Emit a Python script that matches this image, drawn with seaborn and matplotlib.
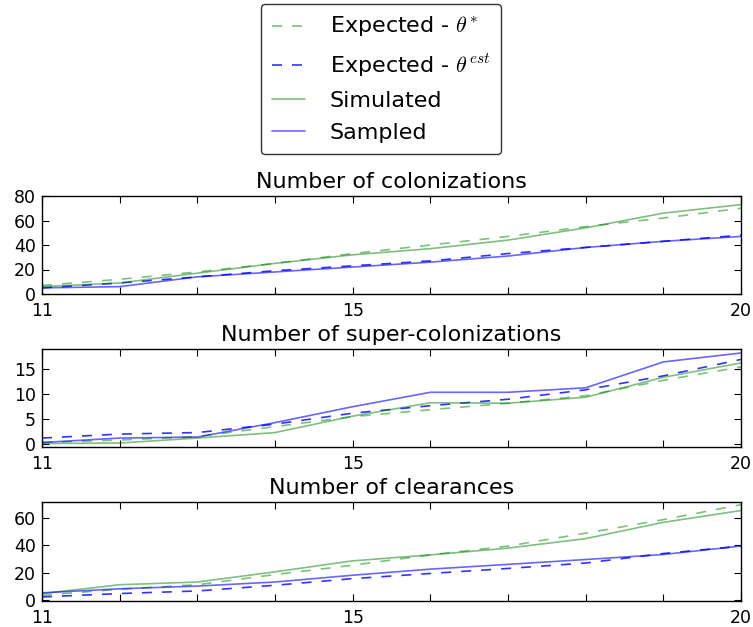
import numpy as np
import pandas as pd
import matplotlib
matplotlib.use("Agg")
import matplotlib.pyplot as plt
import seaborn as sns
from matplotlib.ticker import FixedLocator, MultipleLocator

sns.set_style("white")
plt.rcParams['font.family'] = ['DejaVu Sans']
plt.rcParams['font.size'] = 12
plt.rcParams['mathtext.fontset'] = 'cm'
for key in ['text.color', 'axes.labelcolor', 'xtick.color', 'ytick.color']:
    plt.rcParams[key] = 'black'

steps = [11, 12, 13, 14, 15, 16, 17, 18, 19, 20]

# colonizations
col_exp_true = [7, 12, 18, 25, 33, 40, 47, 55, 62, 70]
col_exp_est = [5, 9, 14, 19, 23, 27, 33, 38, 43, 48]
col_sim = [6, 9, 17, 25, 32, 37, 44, 54, 66, 73]
col_samp = [5, 6, 14, 18, 22, 26, 31, 38, 43, 47]

# super-colonizations
sup_exp_true = [0.2, 0.7, 1.4, 3.4, 5.4, 6.8, 8.1, 9.6, 12.7, 15.4]
sup_exp_est = [1.1, 1.9, 2.2, 3.9, 6.1, 7.6, 8.9, 10.8, 13.6, 16.9]
sup_sim = [0.0, 0.1, 1.1, 2.2, 5.5, 8.2, 8.1, 9.3, 13.3, 16.2]
sup_samp = [0.2, 1.1, 1.3, 4.2, 7.4, 10.3, 10.3, 11.2, 16.4, 18.2]

# clearances
clr_exp_true = [3.2, 7.7, 11, 18.5, 25.4, 33, 39.5, 49, 59, 70]
clr_exp_est = [2, 4.5, 6.4, 10.6, 15.5, 19.3, 23, 27, 34, 39.5]
clr_sim = [4.5, 11, 13, 20.5, 28.6, 33, 38, 45, 57, 65.7]
clr_samp = [5, 8, 10, 13, 18, 22.5, 26, 29.6, 33.3, 39.5]

titles = ["Number of colonizations", "Number of super-colonizations", "Number of clearances"]
panels = [
    (col_exp_true, col_exp_est, col_sim, col_samp),
    (sup_exp_true, sup_exp_est, sup_sim, sup_samp),
    (clr_exp_true, clr_exp_est, clr_sim, clr_samp),
]
ylims = [(0, 80), (-0.7, 19), (-1, 72)]
yticks = [[0, 20, 40, 60, 80], [0, 5, 10, 15], [0, 20, 40, 60]]

fig = plt.figure(figsize=(7.53, 6.27), dpi=100)
W, H = 753.0, 627.0
left, right = 42, 741
boxes = [(196, 294), (349, 447), (502, 601)]
dash = (0, (6, 6))

for i, (top, bot) in enumerate(boxes):
    ax = fig.add_axes([left / W, 1 - bot / H, (right - left) / W, (bot - top) / H])
    e_true, e_est, sim, samp = panels[i]
    sns.lineplot(x=steps, y=e_true, ax=ax, color='g', alpha=0.5, lw=1.2, linestyle=dash,
                 label=r'Expected - $\theta^{*}$')
    sns.lineplot(x=steps, y=e_est, ax=ax, color='b', alpha=0.8, lw=1.2, linestyle=dash,
                 label=r'Expected - $\theta^{est}$')
    sns.lineplot(x=steps, y=sim, ax=ax, color='g', alpha=0.5, lw=1.2, label='Simulated')
    sns.lineplot(x=steps, y=samp, ax=ax, color='b', alpha=0.6, lw=1.2, label='Sampled')
    ax.set_xlim(11, 20)
    ax.set_ylim(*ylims[i])
    ax.xaxis.set_major_locator(FixedLocator([11, 15, 20]))
    ax.xaxis.set_minor_locator(MultipleLocator(1))
    ax.set_yticks(yticks[i])
    ax.tick_params(which='both', direction='in', top=True, right=True, bottom=True, left=True)
    ax.tick_params(which='major', length=5, width=0.8, labelsize=12.5)
    ax.tick_params(which='minor', length=5, width=0.8)
    ax.tick_params(axis='x', which='major', pad=5.5)
    ax.tick_params(axis='y', which='major', pad=4.5)
    ax.set_title(titles[i], fontsize=16, pad=6)
    ax.set_xlabel('')
    ax.set_ylabel('')
    for s in ax.spines.values():
        s.set_color('black')
        s.set_linewidth(1.0)
    if i == 0:
        handles, labels = ax.get_legend_handles_labels()
    ax.get_legend().remove()

leg = fig.legend(handles, labels, loc='upper center', bbox_to_anchor=(381 / W, 1 - 4 / H),
                 fontsize=16, frameon=True, fancybox=True, borderpad=0.5, handlelength=1.5,
                 handletextpad=1.1, labelspacing=0.55, borderaxespad=0)
leg.get_frame().set_edgecolor('black')
leg.get_frame().set_linewidth(1.0)

fig.savefig('out.png', dpi=100, facecolor='white')
